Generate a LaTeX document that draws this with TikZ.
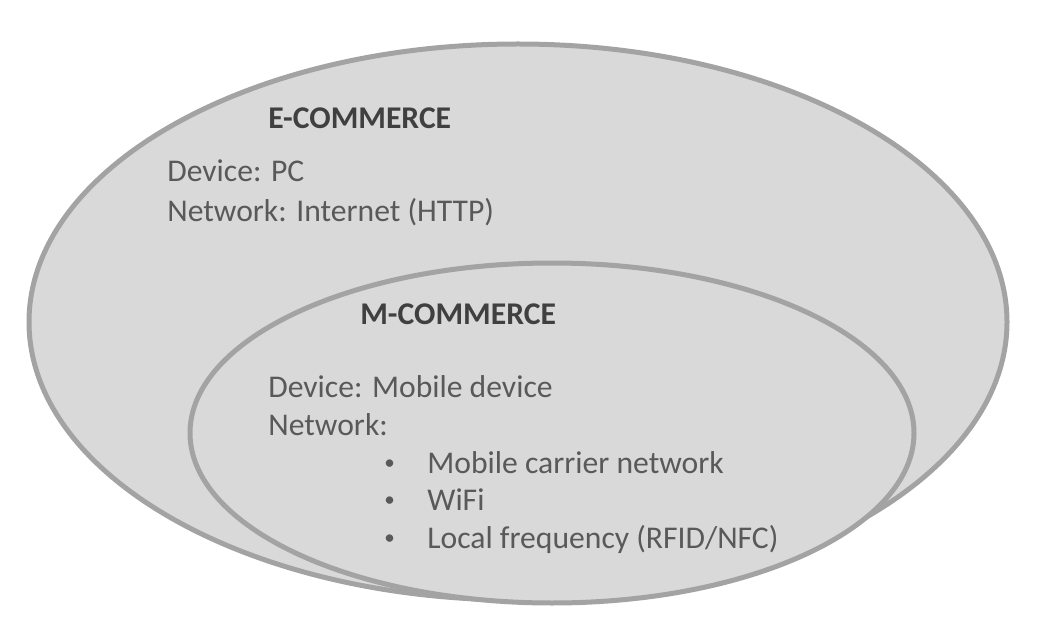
\documentclass[tikz,border=0pt]{standalone}
\usepackage{fontspec}
\setmainfont{Carlito}
\usepackage{xcolor}
\usetikzlibrary{shapes,positioning}

\definecolor{setfill}{HTML}{D9D9D9}
\definecolor{setline}{HTML}{A3A3A3}
\definecolor{settext}{HTML}{595959}
\definecolor{sethead}{HTML}{404040}

\begin{document}
\begin{tikzpicture}[x=0.02cm, y=-0.02cm,
    setring/.style={draw=setline, fill=setfill, line width=0.1cm},
    head/.style={anchor=base west, inner sep=0pt, text=sethead, font=\fontsize{18}{21}\selectfont\bfseries},
    line/.style={anchor=base west, inner sep=0pt, text=settext, font=\fontsize{18}{21}\selectfont},
    dot/.style={anchor=base west, inner sep=0pt, text=settext, font=\fontsize{12}{14}\selectfont}]
    \useasboundingbox (0,0) rectangle (1048,618);

    % the two sets
    \draw [setring] (518,322) ellipse [x radius=489, y radius=278];
    \draw [setring] (552,433) ellipse [x radius=362, y radius=170];

    % e-commerce
    \node [head] (Ehead) at (268,129) {E-COMMERCE};
    \node [line] (Edevice) at (167,182) {Device: PC};
    \node [line] (Enet) at (167,222) {Network: Internet (HTTP)};

    % m-commerce
    \node [head] (Mhead) at (360,324) {M-COMMERCE};
    \node [line] (Mdevice) at (268,397) {Device: Mobile device};
    \node [line] (Mnet) at (268,435) {Network:};
    \node [dot] (B1) at (384,469) {•};
    \node [line] (Carrier) at (427,473) {Mobile carrier network};
    \node [dot] (B2) at (384,506) {•};
    \node [line] (Wifi) at (427,510) {WiFi};
    \node [dot] (B3) at (384,544) {•};
    \node [line] (Local) at (427,548) {Local frequency (RFID/NFC)};
\end{tikzpicture}
\end{document}
